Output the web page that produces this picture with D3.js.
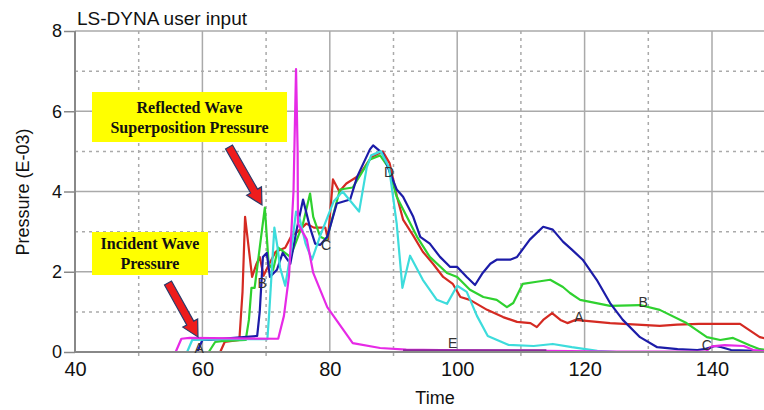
<!DOCTYPE html>
<html><head><meta charset="utf-8">
<script src="https://cdn.jsdelivr.net/npm/d3@7"></script>
<style>body{margin:0;background:#fff}svg{display:block}</style>
</head><body><svg id="c" width="764" height="410"></svg>
<script>
// ---- data (time, pressure E-03) ----
const curveA = [[40,0],[62.8,0],[63.5,0.25],[65.8,0.3],[66.3,1.5],[66.7,3.37],[67.8,1.87],[68.5,2.2],[69,2.37],[69.6,1.9],[70.5,2.2],[71.5,2.5],[73,2.6],[74,2.9],[75,3.0],[76.3,3.2],[77.5,3.1],[79.3,3.1],[79.7,2.8],[80.5,4.3],[81.5,4.0],[82.6,4.2],[84.6,4.4],[86.5,4.85],[88.3,5.0],[89.4,4.7],[90.5,3.9],[91.5,3.3],[93.1,2.9],[94.6,2.5],[96.2,2.2],[97.8,1.87],[99.3,1.7],[100.5,1.37],[102,1.3],[104.7,1.05],[107.2,0.87],[109.4,0.75],[111.5,0.72],[112.5,0.62],[113.5,0.8],[114.9,0.97],[116.2,0.8],[117.3,0.72],[118.6,0.8],[124,0.72],[131.8,0.65],[134.5,0.68],[138,0.7],[144.4,0.7],[147.5,0.37],[148.5,0.33]];
const curveB = [[40,0],[61,0],[62,0.25],[63,0.27],[66.8,0.3],[67.3,0.8],[67.7,1.6],[68.2,1.6],[69,2.6],[69.8,3.6],[70.4,2.2],[71.1,2.05],[71.9,2.6],[73.8,2.37],[75,2.87],[75.8,3.2],[76.9,3.95],[77.4,3.37],[78.5,2.87],[79.5,2.8],[81.6,4.05],[83.6,4.1],[86.3,4.8],[87.9,4.9],[89.2,4.6],[90.5,3.87],[92.1,3.37],[93.7,2.87],[95.7,2.37],[98.4,1.97],[100,1.87],[102,1.55],[104.1,1.37],[106.2,1.3],[107.8,1.12],[108.8,1.22],[110.3,1.7],[112.5,1.75],[114.6,1.8],[116.6,1.62],[117.7,1.47],[119.3,1.3],[124,1.15],[128.7,1.17],[131.8,1.05],[136,0.72],[139.2,0.37],[141.3,0.3],[143.3,0.35],[145.9,0.17],[147.5,0.07],[148.5,0.05]];
const curveC = [[40,0],[59.2,0],[60,0.3],[61,0.3],[68.6,0.4],[69,1.0],[69.5,2.37],[70.1,2.47],[70.6,1.87],[71.7,2.05],[72.6,2.47],[73.8,2.2],[74.8,3.05],[75.8,3.8],[76.9,3.1],[77.7,2.7],[78.5,2.67],[79.6,2.87],[81.1,3.7],[83.2,3.8],[84.3,4.37],[86.3,5.05],[86.8,5.15],[88.3,4.95],[89.5,4.45],[90.5,4.05],[91.5,3.87],[93.1,3.37],[94.2,2.87],[95.7,2.7],[97.3,2.37],[98.9,2.12],[100,2.12],[101.5,1.87],[102.8,1.67],[104,1.97],[105.2,2.2],[106.2,2.3],[108.3,2.3],[109.4,2.37],[111.4,2.8],[113.5,3.12],[115,3.05],[116.6,2.75],[118,2.55],[119.7,2.3],[121.9,1.8],[124,1.22],[126,0.8],[128.7,0.37],[131.4,0.12],[134.6,0.07],[137.7,0.05],[139,0.08],[140.5,0.15],[141.5,0.12],[143,0.05],[148.5,0.02]];
const curveD = [[40,0],[57.6,0],[58.4,0.3],[59,0.3],[63,0.32],[70.2,0.32],[70.5,1.0],[71.3,3.1],[71.8,2.6],[72.2,2.1],[73,1.65],[74,2.6],[74.7,3.5],[75.3,3.3],[76.2,2.7],[77.2,2.3],[78.5,2.9],[80.6,3.75],[82,4.0],[84.6,3.5],[85.8,4.6],[86.5,4.9],[88,5.0],[89.3,4.6],[90.5,3.2],[91.4,1.6],[92.6,2.4],[94.6,1.8],[96.8,1.3],[98.4,1.2],[100,1.65],[101.5,1.5],[103.1,0.9],[104.8,0.4],[108,0.18],[112,0.15],[115,0.2],[118,0.12],[122,0.03],[125,0],[148.5,0]];
const curveE = [[40,0],[55.8,0],[56.7,0.33],[58,0.35],[71.9,0.33],[72.8,0.9],[73.6,1.9],[74.3,4.0],[74.7,7.05],[74.95,5.0],[75.0,3.2],[76.4,2.8],[77.4,1.97],[79.6,1.12],[83.6,0.22],[87.9,0.1],[92,0.06],[100,0.04],[114,0.03],[125,0.01],[139,0.01],[140,0.14],[142,0.17],[145,0.15],[146.5,0.05],[148.5,0.02]];
const curveE2 = [[91.5,0.03],[114,0.03]];
const seriesColors = ["#d42a22","#2fd12f","#1c1ca8","#3ddcdc","#e62ae6"];
const xTicks = [40,60,80,100,120,140];
const xMinor = [50,70,90,110,130,150];
const yTicks = [0,2,4,6,8];
const yMinor = [1,3,5,7];
const markerLabels = [["A",59.5,0.1],["B",69.4,1.72],["C",79.4,2.67],["D",89.3,4.49],["E",99.3,0.22],["A",119.1,0.87],["B",129.2,1.25],["C",139.2,0.17]];
const titleText = "LS-DYNA user input";
const xLabel = "Time";
const yLabel = "Pressure (E-03)";
const boxReflected = ["Reflected Wave","Superposition Pressure"];
const boxIncident = ["Incident Wave","Pressure"];

// ---- drawing ----
const svg = d3.select("#c");
const W = 764, H = 410;
const x = d3.scaleLinear().domain([40,150]).range([75, 775.7]);
const y = d3.scaleLinear().domain([0,8]).range([352, 31]);

const plot = svg.append("g");
plot.append("clipPath").attr("id","clip").append("rect").attr("x",75).attr("y",0).attr("width",W-75).attr("height",360);

// grid
const grid = plot.append("g");
grid.selectAll(".vmaj").data(xTicks.filter(d=>d>40)).enter().append("line")
  .attr("x1",d=>x(d)).attr("x2",d=>x(d)).attr("y1",y(8)).attr("y2",y(0))
  .attr("stroke","#aaa").attr("stroke-width",1.5);
grid.selectAll(".vmin").data(xMinor.filter(d=>x(d)<W)).enter().append("line")
  .attr("x1",d=>x(d)).attr("x2",d=>x(d)).attr("y1",y(8)).attr("y2",y(0)+4)
  .attr("stroke","#aaa").attr("stroke-width",1.5).attr("stroke-dasharray","3,4");
grid.selectAll(".hmaj").data(yTicks.filter(d=>d>0)).enter().append("line")
  .attr("x1",x(40)).attr("x2",W).attr("y1",d=>y(d)).attr("y2",d=>y(d))
  .attr("stroke","#aaa").attr("stroke-width",1.5);
grid.selectAll(".hmin").data(yMinor).enter().append("line")
  .attr("x1",x(40)).attr("x2",W).attr("y1",d=>y(d)).attr("y2",d=>y(d))
  .attr("stroke","#aaa").attr("stroke-width",1.5).attr("stroke-dasharray","3,4");

// axes
const xAxis = d3.axisBottom(x).tickValues(xTicks).tickSize(0).tickPadding(6);
const gx = svg.append("g").attr("transform",`translate(0,${y(0)})`).call(xAxis);
gx.select(".domain").attr("stroke","#888").attr("stroke-width",2).attr("d",`M${x(40)},0H${W}`);
gx.selectAll("text").attr("font-family","'Liberation Sans Narrow','Liberation Sans',Arial,sans-serif")
  .attr("font-size",20).attr("fill","#111").attr("dy","0.9em");

const yAxis = d3.axisLeft(y).tickValues(yTicks).tickSize(11).tickPadding(2);
const gy = svg.append("g").attr("transform",`translate(${x(40)},0)`).call(yAxis);
gy.select(".domain").attr("stroke","#888").attr("stroke-width",2).attr("d",`M0,${y(8)}V${y(0)}`);
gy.selectAll(".tick line").attr("stroke","#888").attr("stroke-width",1.5);
gy.selectAll("text").attr("font-family","'Liberation Sans',Arial,sans-serif").attr("font-size",18).attr("fill","#111");

// series
const line = d3.line().x(d=>x(d[0])).y(d=>y(d[1]));
const series = [curveA, curveB, curveC, curveD, curveE];
const lines = plot.append("g").attr("clip-path","url(#clip)");
series.forEach((s,i)=>{
  lines.append("path").datum(s).attr("d",line).attr("fill","none")
    .attr("stroke",seriesColors[i]).attr("stroke-width",2.2).attr("stroke-linejoin","round");
});
lines.append("path").datum(curveE2).attr("d",line).attr("fill","none")
  .attr("stroke","#8c2a9a").attr("stroke-width",3);

// curve markers
svg.append("g").selectAll("text").data(markerLabels).enter().append("text")
  .attr("x",d=>x(d[1])).attr("y",d=>y(d[2])).attr("dy","0.35em").attr("text-anchor","middle")
  .attr("font-family","'Liberation Sans',Arial,sans-serif").attr("font-size",14).attr("fill","#333")
  .text(d=>d[0]);

// titles
svg.append("text").attr("x",77).attr("y",25).attr("font-family","'Liberation Sans',Arial,sans-serif")
  .attr("font-size",19).attr("fill","#111").text(titleText);
svg.append("text").attr("x",435).attr("y",404).attr("text-anchor","middle")
  .attr("font-family","'Liberation Sans',Arial,sans-serif").attr("font-size",18).attr("fill","#111").text(xLabel);
svg.append("text").attr("transform","translate(29,192) rotate(-90)").attr("text-anchor","middle")
  .attr("font-family","'Liberation Sans',Arial,sans-serif").attr("font-size",18).attr("fill","#111").text(yLabel);

// annotation boxes
function box(x0,y0,w,h,lines,base){
  svg.append("rect").attr("x",x0).attr("y",y0).attr("width",w).attr("height",h).attr("fill","#ffff00");
  lines.forEach((t,i)=>svg.append("text").attr("x",x0+w/2).attr("y",base+i*20).attr("text-anchor","middle")
    .attr("font-family","'Liberation Serif','Times New Roman',serif").attr("font-weight","bold")
    .attr("font-size",16).attr("fill","#111").text(t));
}
box(92,92,195,50,boxReflected,113);
box(92,232,116,43,boxIncident,249);

function arrow(x1,y1,x2,y2){
  const dx=x2-x1, dy=y2-y1, L=Math.hypot(dx,dy), ux=dx/L, uy=dy/L, nx=-uy, ny=ux;
  const sw=4, hw=8.5, hl=16;
  const bx=x2-ux*hl, by=y2-uy*hl;
  const pts=[[x1+nx*sw,y1+ny*sw],[bx+nx*sw,by+ny*sw],[bx+nx*hw,by+ny*hw],[x2,y2],[bx-nx*hw,by-ny*hw],[bx-nx*sw,by-ny*sw],[x1-nx*sw,y1-ny*sw]];
  svg.append("polygon").attr("points",pts.map(p=>p.join(",")).join(" "))
    .attr("fill","#ee1c1c").attr("stroke","#2a3a6a").attr("stroke-width",1.2).attr("stroke-linejoin","miter");
}
arrow(229,147,262,205);
arrow(168,283,198,337);
</script></body></html>
